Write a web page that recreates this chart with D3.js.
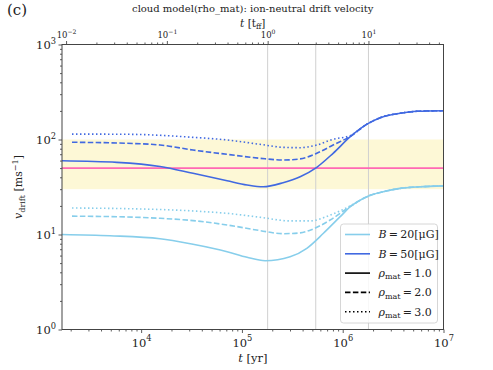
<!DOCTYPE html>
<html>
<head>
<meta charset="utf-8">
<script src="https://cdn.jsdelivr.net/npm/d3@7"></script>
<style>
  body { margin: 0; background: #fff; }
  svg text { font-family: "DejaVu Serif", serif; fill: #222; }
</style>
</head>
<body>
<div id="plot"></div>
<script>
// values (t in yr, v in m/s)
var tff = 1.8e5;
var tffLines = [1, 3, 10];
var band = [30, 100];
var targetV = 50;

var b50Tail = [[1.74e6, 145], [2.52e6, 174], [3.72e6, 189], [5.45e6, 198], [1e7, 201]];
var b20Tail = [[1.74e6, 25.0], [2.52e6, 28.2], [3.72e6, 30.6], [5.88e6, 31.8], [1e7, 32.5]];

var b50rho1 = [[1640, 59.8], [5750, 57.5], [15400, 52], [32700, 44.1], [71300, 36.8], [112500, 33.2],
  [162000, 31.8], [256000, 35.1], [378000, 40.6], [553000, 51], [803000, 71.6], [1.19e6, 107]];
var b50rho2 = [[2060, 93.5], [7230, 91.2], [15400, 87.5], [32700, 77.5], [71300, 69.8], [151000, 63.4],
  [256000, 60.8], [378000, 62.5], [553000, 71.6], [803000, 87.5], [1.19e6, 108]];
var b50rho3 = [[2060, 114], [7230, 113.5], [32700, 105.4], [71300, 98.8], [151000, 89], [256000, 82.7],
  [378000, 82], [553000, 87.5], [803000, 100.5], [1.19e6, 110]];

var b20rho1 = [[1640, 10.0], [4910, 9.7], [15400, 9.03], [32700, 7.88], [71300, 6.59], [112500, 5.75],
  [170000, 5.30], [300600, 5.83], [440500, 7.16], [644000, 10.3], [944000, 15.4], [1.19e6, 19.6]];
var b20rho2 = [[2060, 15.6], [7230, 15.3], [15400, 14.8], [32700, 14.0], [71300, 12.6], [151000, 11.0],
  [256000, 10.2], [378000, 10.4], [475000, 11.1], [750000, 14.2], [1.19e6, 19.8]];
var b20rho3 = [[2060, 19.0], [7230, 18.7], [32700, 17.7], [71300, 16.7], [151000, 15.2], [300600, 13.9],
  [475000, 13.9], [750000, 16.0], [1.19e6, 20.0]];

var series = [
  {data: b20rho1.concat(b20Tail), color: "#87ceeb", dash: null},
  {data: b20rho2.concat(b20Tail), color: "#87ceeb", dash: "5.5,2.4"},
  {data: b20rho3.concat(b20Tail), color: "#87ceeb", dash: "1.5,2.5"},
  {data: b50rho1.concat(b50Tail), color: "#4169e1", dash: null},
  {data: b50rho2.concat(b50Tail), color: "#4169e1", dash: "5.5,2.4"},
  {data: b50rho3.concat(b50Tail), color: "#4169e1", dash: "1.5,2.5"}
];

var margin = {top: 44.5, right: 49.5, bottom: 40.5, left: 62},
    width = 493 - margin.left - margin.right,
    height = 370 - margin.top - margin.bottom;

var root = d3.select("#plot").append("svg")
    .attr("width", 493).attr("height", 370);
var svg = root.append("g")
    .attr("transform", "translate(" + margin.left + "," + margin.top + ")");

var x = d3.scaleLog().domain([1640, 1e7]).range([0, width]);
var xTop = d3.scaleLog().domain([1640 / tff, 1e7 / tff]).range([0, width]);
var y = d3.scaleLog().domain([1, 1000]).range([height, 0]);

// band, target line, tff markers
svg.append("rect")
    .attr("x", 0).attr("width", width)
    .attr("y", y(band[1])).attr("height", y(band[0]) - y(band[1]))
    .style("fill", "#fdf8d6");

svg.selectAll(".vline").data(tffLines).enter().append("line")
    .attr("x1", function(d) { return x(d * tff); })
    .attr("x2", function(d) { return x(d * tff); })
    .attr("y1", 0).attr("y2", height)
    .style("stroke", "#d0d0d0").style("stroke-width", 1);

svg.append("line")
    .attr("x1", 0).attr("x2", width)
    .attr("y1", y(targetV)).attr("y2", y(targetV))
    .style("stroke", "#ff69b4").style("stroke-width", 1.6);

var line = d3.line()
    .x(function(d) { return x(d[0]); })
    .y(function(d) { return y(d[1]); })
    .curve(d3.curveMonotoneX);

svg.selectAll(".series").data(series).enter().append("path")
    .attr("d", function(d) { return line(d.data); })
    .style("fill", "none")
    .style("stroke", function(d) { return d.color; })
    .style("stroke-width", 1.6)
    .style("stroke-dasharray", function(d) { return d.dash; });

// axes helpers
function decades(a, b) { var out = []; for (var e = a; e <= b; e++) out.push(Math.pow(10, e)); return out; }
function minors(a, b, lo, hi) {
  var out = [];
  for (var e = a; e <= b; e++) for (var k = 2; k <= 9; k++) {
    var v = k * Math.pow(10, e); if (v >= lo && v <= hi) out.push(v);
  }
  return out;
}
function powLabel(sel, v, size) {
  var e = Math.round(Math.log10(v));
  sel.text("10");
  sel.append("tspan").attr("dy", -size * 0.45).style("font-size", (size * 0.72) + "px")
    .text(e < 0 ? "\u2212" + (-e) : e);
}
function styleAxis(g) {
  g.select(".domain").remove();
  g.selectAll("line").style("stroke", "#333").style("stroke-width", 0.8);
}

// left axis
svg.append("g").call(d3.axisLeft(y).tickValues(minors(0, 2, 1, 1000)).tickSize(2).tickFormat("")).call(styleAxis);
var gl = svg.append("g").call(d3.axisLeft(y).tickValues(decades(0, 3)).tickSize(3.5).tickFormat("")).call(styleAxis);
gl.selectAll(".tick").append("text")
    .attr("x", -6).attr("dy", "0.35em").attr("text-anchor", "end")
    .style("font-size", "11.5px")
    .each(function(d) { powLabel(d3.select(this), d, 11.5); });

// bottom axis
svg.append("g").attr("transform", "translate(0," + height + ")")
  .call(d3.axisBottom(x).tickValues(minors(3, 6, 1640, 1e7)).tickSize(2).tickFormat("")).call(styleAxis);
var gb = svg.append("g").attr("transform", "translate(0," + height + ")")
  .call(d3.axisBottom(x).tickValues(decades(4, 7)).tickSize(3.5).tickFormat("")).call(styleAxis);
gb.selectAll(".tick").append("text")
    .attr("y", 17).attr("text-anchor", "middle")
    .style("font-size", "11.5px")
    .each(function(d) { powLabel(d3.select(this), d, 11.5); });

// top axis (t in units of tff)
svg.append("g")
  .call(d3.axisTop(xTop).tickValues(minors(-3, 1, 1640 / tff, 1e7 / tff)).tickSize(2).tickFormat("")).call(styleAxis);
var gt = svg.append("g")
  .call(d3.axisTop(xTop).tickValues(decades(-2, 1)).tickSize(3.5).tickFormat("")).call(styleAxis);
gt.selectAll(".tick").append("text")
    .attr("y", -7).attr("text-anchor", "middle")
    .style("font-size", "8.5px")
    .each(function(d) { powLabel(d3.select(this), d, 8.5); });

// frame
svg.append("rect").attr("width", width).attr("height", height)
    .style("fill", "none").style("stroke", "#444").style("stroke-width", 1);

// axis titles
var xl = svg.append("text").attr("x", width / 2).attr("y", height + 32)
    .attr("text-anchor", "middle").style("font-size", "11.5px");
xl.append("tspan").style("font-style", "italic").text("t");
xl.append("tspan").text(" [yr]");

var tl = svg.append("text").attr("x", width / 2).attr("y", -18)
    .attr("text-anchor", "middle").style("font-size", "10.5px");
tl.append("tspan").style("font-style", "italic").text("t");
tl.append("tspan").text(" [t");
tl.append("tspan").attr("dy", 2.5).style("font-size", "7.5px").text("ff");
tl.append("tspan").attr("dy", -2.5).text("]");

var yl = svg.append("text")
    .attr("transform", "translate(" + (-40) + "," + (height / 2) + ") rotate(-90)")
    .attr("text-anchor", "middle").style("font-size", "11px");
yl.append("tspan").style("font-style", "italic").text("v");
yl.append("tspan").attr("dy", 2.5).style("font-size", "8px").text("drift");
yl.append("tspan").attr("dy", -2.5).text(" [ms");
yl.append("tspan").attr("dy", -4.5).style("font-size", "8px").text("\u22121");
yl.append("tspan").attr("dy", 4.5).text("]");

root.append("text").attr("x", margin.left + width / 2).attr("y", 12)
    .attr("text-anchor", "middle").style("font-size", "10px")
    .text("cloud model(rho_mat): ion-neutral drift velocity");

root.append("text").attr("x", 7).attr("y", 15)
    .style("font-size", "15px").text("(c)");

// legend
var legendItems = [
  {color: "#87ceeb", dash: null, kind: "B", val: "20"},
  {color: "#4169e1", dash: null, kind: "B", val: "50"},
  {color: "#000", dash: null, kind: "rho", val: "1.0"},
  {color: "#000", dash: "5.5,2.4", kind: "rho", val: "2.0"},
  {color: "#000", dash: "1.5,2.5", kind: "rho", val: "3.0"}
];
var lg = svg.append("g").attr("transform", "translate(" + (340.5 - margin.left) + "," + (224 - margin.top) + ")");
lg.append("rect").attr("width", 97).attr("height", 99).attr("rx", 3)
    .style("fill", "#fff").style("fill-opacity", 0.85).style("stroke", "#ccc").style("stroke-width", 0.8);
var li = lg.selectAll(".li").data(legendItems).enter().append("g")
    .attr("transform", function(d, i) { return "translate(0," + (10.5 + i * 19.3) + ")"; });
li.append("line").attr("x1", 4.5).attr("x2", 29.5)
    .style("stroke", function(d) { return d.color; })
    .style("stroke-width", 1.6)
    .style("stroke-dasharray", function(d) { return d.dash; });
li.append("text").attr("x", 38).attr("dy", "0.35em").style("font-size", "11px")
    .each(function(d) {
      var t = d3.select(this);
      if (d.kind === "B") {
        t.append("tspan").style("font-style", "italic").text("B");
        t.append("tspan").text("\u2009=\u2009" + d.val + "[\u03bcG]");
      } else {
        t.append("tspan").style("font-style", "italic").text("\u03c1");
        t.append("tspan").attr("dy", 2.5).style("font-size", "8px").text("mat");
        t.append("tspan").attr("dy", -2.5).text("\u2009=\u2009" + d.val);
      }
    });
</script>
</body>
</html>
